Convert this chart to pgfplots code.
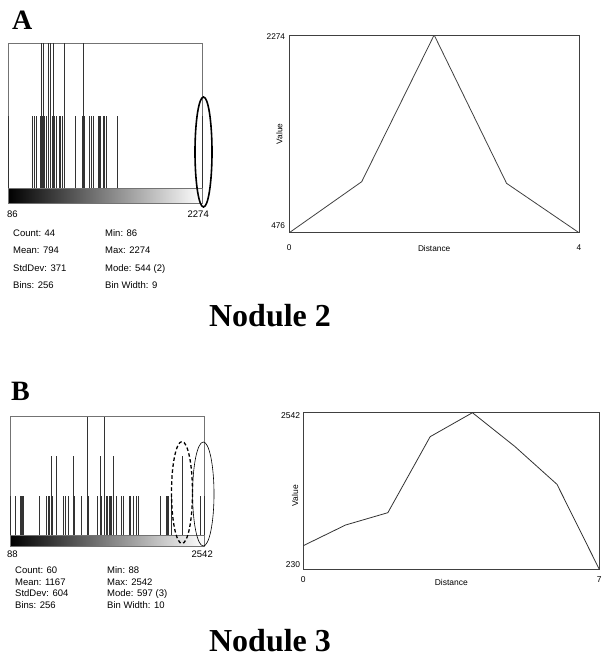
\documentclass[border=0pt]{standalone}
\usepackage{fontspec}
\setmainfont{Liberation Serif}
\newfontfamily\arial{Liberation Sans}
\usepackage{pgfplots}
\usepackage{pgfplotstable}
\pgfplotsset{compat=1.18}

\pgfplotstableread{
bin count
0 1
32 1
35 1
37 1
42 1
43 1
44 2
45 1
46 2
48 1
51 1
53 2
56 2
59 1
60 2
61 1
64 1
67 1
69 1
72 1
74 2
88 1
98 1
99 2
100 1
107 1
110 1
112 1
119 1
120 1
121 1
122 1
125 1
127 1
130 1
144 1
255 1
}\histA

\pgfplotstableread{
bin count
1 1
7 1
14 1
15 1
16 1
18 1
39 1
48 1
50 1
52 1
54 2
55 1
56 1
61 2
70 1
72 1
76 1
83 2
84 1
94 1
101 3
103 1
115 1
118 2
119 1
120 1
124 3
126 1
128 1
130 1
132 1
133 1
136 2
139 1
146 1
149 1
156 1
157 1
158 1
162 1
165 1
168 1
197 1
205 1
206 1
207 1
211 1
226 2
249 1
255 1
}\histB

\pgfplotstableread{
d v
0 476
1 940
2 2274
3 925
4 476
}\profA

\pgfplotstableread{
d v
0 579
1 884
2 1066
3 2188
4 2542
5 2045
6 1484
7 230
}\profB

\newcommand{\statfont}{\arial\fontsize{9.5bp}{11bp}\selectfont}
\newcommand{\tickfont}{\arial\fontsize{8.3bp}{9bp}\selectfont}
\newcommand{\tickfontB}{\arial\fontsize{8.5bp}{9.5bp}\selectfont}

\begin{document}
\begin{tikzpicture}
\path[use as bounding box] (0,0) rectangle (612bp,-658bp);

% ---------- Panel A ----------
\node[anchor=base west, inner sep=0, font=\bfseries\fontsize{28bp}{30bp}\selectfont] at (12bp,-29bp) {A};

\begin{axis}[at={(8bp,-188bp)}, anchor=south west, scale only axis,
  width=194bp, height=145bp, xmin=0, xmax=255, ymin=0, ymax=2,
  ticks=none, clip=false,
  axis line style={black!55, line width=0.7bp}]
  \addplot[ycomb, draw=black!80, line width=0.9bp] table[x=bin, y=count] {\histA};
\end{axis}
\shade[left color=black, right color=white] (8bp,-188bp) rectangle (202bp,-203bp);
\draw[black!55, line width=0.6bp] (8bp,-188bp) rectangle (202bp,-203bp);
\draw[line width=1.6bp] (203.5bp,-152bp) ellipse [x radius=8.5bp, y radius=55bp];

\node[anchor=base west, inner sep=0, font=\statfont] at (7bp,-217.5bp) {86};
\node[anchor=base east, inner sep=0, font=\statfont] at (209bp,-217.5bp) {2274};
\begin{scope}[every node/.style={anchor=base west, inner sep=0, font=\statfont}]
\node at (13bp,-236.5bp) {Count: 44};
\node at (13bp,-253.5bp) {Mean: 794};
\node at (13bp,-271.5bp) {StdDev: 371};
\node at (13bp,-288.5bp) {Bins: 256};
\node at (105bp,-236.5bp) {Min: 86};
\node at (105bp,-253.5bp) {Max: 2274};
\node at (105bp,-271.5bp) {Mode: 544 (2)};
\node at (105bp,-288.5bp) {Bin Width: 9};
\end{scope}

\begin{axis}[at={(289.3bp,-232.7bp)}, anchor=south west, scale only axis,
  width=289.7bp, height=197.7bp, xmin=0, xmax=4, ymin=476, ymax=2274,
  scaled ticks=false,
  xtick={0,4}, xticklabels={0,4},
  ytick={476,2274}, yticklabels={\raisebox{3.8bp}[0pt][0pt]{476},\raisebox{-4.9bp}[0pt][0pt]{2274}},
  major tick length=0,
  tick label style={font=\tickfont, inner sep=0},
  xticklabel style={anchor=base, yshift=-17.3bp},
  yticklabel style={anchor=east, xshift=-4bp},
  xlabel={Distance}, ylabel={Value},
  label style={font=\tickfont, inner sep=0},
  xlabel style={at={(axis description cs:0.5,-0.0926)}, anchor=base},
  ylabel style={at={(axis description cs:-0.0345,0.5)}, anchor=center},
  axis line style={black!75, line width=0.8bp}]
  \addplot[black!75, line width=0.8bp] table[x=d, y=v] {\profA};
\end{axis}

\node[anchor=base, inner sep=0, font=\bfseries\fontsize{32bp}{36bp}\selectfont] at (270bp,-326bp) {Nodule 2};

% ---------- Panel B ----------
\node[anchor=base west, inner sep=0, font=\bfseries\fontsize{28bp}{30bp}\selectfont] at (11bp,-400bp) {B};

\begin{axis}[at={(10bp,-535bp)}, anchor=south west, scale only axis,
  width=194.7bp, height=118.3bp, xmin=0, xmax=255, ymin=0, ymax=3,
  ticks=none, clip=false,
  axis line style={black!55, line width=0.7bp}]
  \addplot[ycomb, draw=black!80, line width=0.9bp] table[x=bin, y=count] {\histB};
\end{axis}
\shade[left color=black, right color=white] (10bp,-535bp) rectangle (204.7bp,-546.7bp);
\draw[black!55, line width=0.6bp] (10bp,-535bp) rectangle (204.7bp,-546.7bp);
\draw[line width=1.3bp, dash pattern=on 3.5bp off 2.5bp] (182bp,-492.5bp) ellipse [x radius=10.5bp, y radius=51bp];
\draw[line width=0.6bp] (203.3bp,-494bp) ellipse [x radius=10.7bp, y radius=52bp];

\node[anchor=base west, inner sep=0, font=\statfont] at (7bp,-557.5bp) {88};
\node[anchor=base east, inner sep=0, font=\statfont] at (213bp,-557.5bp) {2542};
\begin{scope}[every node/.style={anchor=base west, inner sep=0, font=\statfont}]
\node at (15bp,-573.5bp) {Count: 60};
\node at (15bp,-585.5bp) {Mean: 1167};
\node at (15bp,-596.5bp) {StdDev: 604};
\node at (15bp,-608.5bp) {Bins: 256};
\node at (107bp,-573.5bp) {Min: 88};
\node at (107bp,-585.5bp) {Max: 2542};
\node at (107bp,-596.5bp) {Mode: 597 (3)};
\node at (107bp,-608.5bp) {Bin Width: 10};
\end{scope}

\begin{axis}[at={(303.3bp,-569.3bp)}, anchor=south west, scale only axis,
  width=296bp, height=156.6bp, xmin=0, xmax=7, ymin=230, ymax=2542,
  scaled ticks=false,
  xtick={0,7}, xticklabels={0,7},
  ytick={230,2542}, yticklabels={\raisebox{2.3bp}[0pt][0pt]{230},\raisebox{-5.3bp}[0pt][0pt]{2542}},
  major tick length=0,
  tick label style={font=\tickfontB, inner sep=0},
  xticklabel style={anchor=base, yshift=-12.8bp},
  yticklabel style={anchor=east, xshift=-3bp},
  xlabel={Distance}, ylabel={Value},
  label style={font=\tickfontB, inner sep=0},
  xlabel style={at={(axis description cs:0.5,-0.1015)}, anchor=base},
  ylabel style={at={(axis description cs:-0.028,0.47)}, anchor=center},
  axis line style={black!75, line width=0.8bp}]
  \addplot[black!80, line width=0.8bp] table[x=d, y=v] {\profB};
\end{axis}

\node[anchor=base, inner sep=0, font=\bfseries\fontsize{32bp}{36bp}\selectfont] at (270bp,-651.5bp) {Nodule 3};
\end{tikzpicture}
\end{document}
